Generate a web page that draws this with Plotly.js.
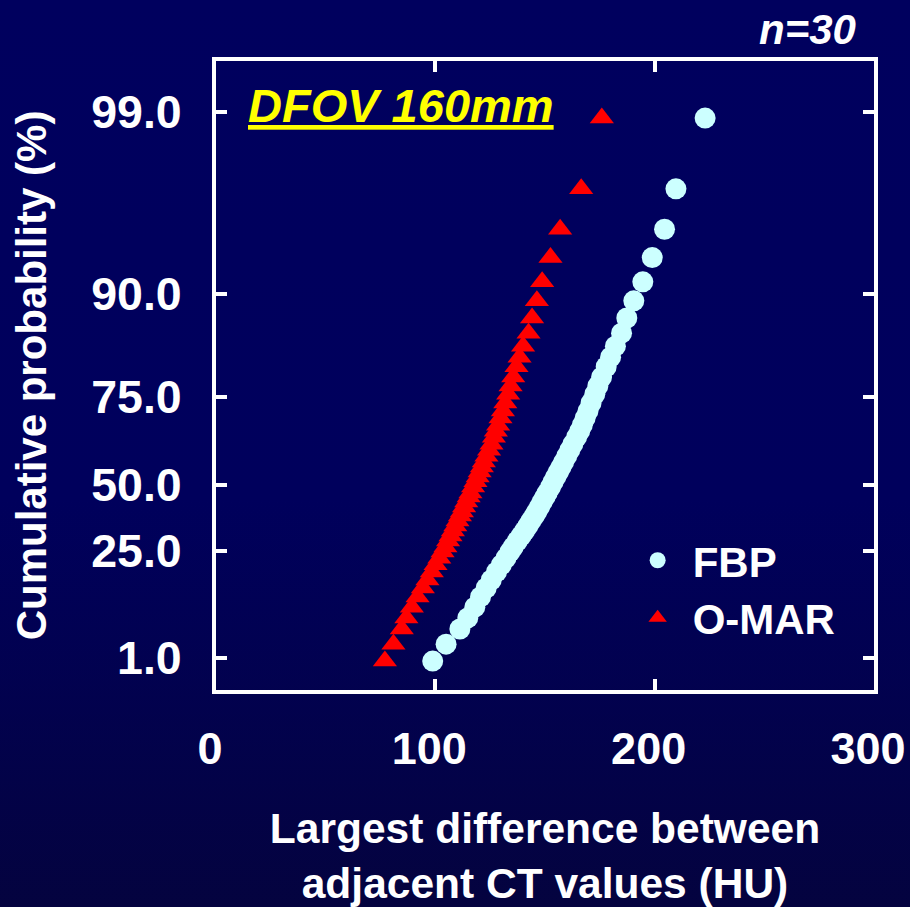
<!DOCTYPE html>
<html>
<head>
<meta charset="utf-8">
<script src="https://cdn.plot.ly/plotly-3.0.1.min.js"></script>
<style>
  html, body { margin: 0; padding: 0; }
  body { width: 910px; height: 907px; overflow: hidden;
         background: linear-gradient(to bottom, #00005e 0%, #00005c 55%, #04033f 100%); }
  #chart { width: 910px; height: 907px; }
</style>
</head>
<body>
<div id="chart"></div>
<script>
// ---- data ----
// cumulative probability (%) of each ranked point, shared by both series (bottom -> top)
const cumProb = [0.3, 4.1, 7.5, 10.0, 12.4, 14.7, 16.7, 18.5, 20.3, 21.9,
                 23.4, 24.8, 26.5, 28.8, 30.7, 32.6, 34.5, 36.4, 38.3, 39.8,
                 41.7, 43.6, 45.5, 47.0, 49.2, 50.9, 52.3, 53.7, 55.1, 56.5,
                 58.2, 59.9, 61.6, 63.6, 65.3, 67.0, 69.0, 71.0, 73.3, 75.4,
                 76.6, 77.9, 79.4, 80.8, 82.4, 84.3, 86.5, 89.0, 90.6, 91.8,
                 93.2, 95.2, 98.7];
// largest difference between adjacent CT values (HU)
const fbpHU = [98.8, 104.9, 111.2, 114.8, 118.0, 120.6, 123.2, 125.5, 127.9, 130.1,
               132.2, 134.0, 135.5, 137.4, 139.1, 140.7, 142.2, 143.6, 145.1, 146.2,
               147.5, 148.7, 150.0, 151.0, 152.5, 153.7, 154.9, 156.1, 157.3, 158.5,
               159.9, 161.3, 162.7, 164.4, 165.8, 167.0, 168.3, 169.6, 171.0, 172.7,
               174.1, 175.8, 177.9, 179.9, 182.1, 184.9, 187.3, 190.5, 194.6, 198.9,
               204.5, 209.7, 223.0];
const omarHU = [77.0, 80.9, 84.7, 86.8, 89.3, 91.9, 94.3, 96.4, 98.4, 100.1,
                101.8, 103.3, 104.6, 105.8, 106.9, 108.0, 109.1, 110.1, 111.2, 112.1,
                113.1, 114.1, 115.2, 116.0, 117.2, 118.3, 119.3, 120.2, 121.2, 122.1,
                123.3, 124.5, 125.6, 126.7, 127.6, 128.6, 129.7, 130.8, 131.9, 133.2,
                134.3, 135.5, 137.0, 138.4, 140.0, 142.5, 144.1, 146.3, 148.7, 152.5,
                156.9, 166.5, 175.9];
const seriesNames = ['FBP', 'O-MAR'];
const xTicks = [0, 100, 200, 300];
const probTicks = [1, 25, 50, 75, 90, 99];
const probTickLabels = ['1.0', '25.0', '50.0', '75.0', '90.0', '99.0'];

// ---- probability-paper scale of the original chart (relative position of each tick) ----
const probScalePos = [0, 107, 173, 261, 364, 546];
function probToAxis(p) {
  let i = 0;
  if (p <= probTicks[0]) i = 0;
  else if (p >= probTicks[probTicks.length - 1]) i = probTicks.length - 2;
  else { while (p > probTicks[i + 1]) i++; }
  const p0 = probTicks[i], p1 = probTicks[i + 1];
  const s0 = probScalePos[i], s1 = probScalePos[i + 1];
  return s0 + (p - p0) * (s1 - s0) / (p1 - p0);
}
const yRange = [-32, 597];

const font = "'Liberation Sans', Arial, sans-serif";
const yPos = cumProb.map(probToAxis);

const traces = [
  { type: 'scatter', mode: 'markers', name: seriesNames[0],
    x: fbpHU, y: yPos,
    marker: { symbol: 'circle', size: 21, color: '#ccffff' },
    hoverinfo: 'skip' },
  { type: 'scatter', mode: 'markers', name: seriesNames[1],
    x: omarHU, y: yPos,
    marker: { symbol: 'triangle-up', size: 21, color: '#ff0000' },
    hoverinfo: 'skip' }
];

const axisCommon = {
  showline: true, linecolor: '#ffffff', linewidth: 4,
  mirror: 'ticks', ticks: 'inside', ticklen: 11, tickwidth: 4, tickcolor: '#ffffff',
  showgrid: false, zeroline: false, fixedrange: true,
  ticklabeloverflow: 'allow'
};

const layout = {
  width: 910, height: 907,
  margin: { l: 216, r: 36, t: 61, b: 217 },
  paper_bgcolor: 'rgba(0,0,0,0)',
  plot_bgcolor: 'rgba(0,0,0,0)',
  showlegend: true,
  legend: {
    x: 0.618, y: 0.26, xanchor: 'left', yanchor: 'top',
    bgcolor: 'rgba(0,0,0,0)', borderwidth: 0,
    itemwidth: 60,
    font: { family: font, size: 42, color: '#ffffff', weight: 'bold' }
  },
  xaxis: Object.assign({}, axisCommon, {
    range: [0, 300], tickvals: xTicks, ticktext: xTicks.map(String),
    tickfont: { family: font, size: 45, color: '#ffffff', weight: 'bold' },
    ticklabelstandoff: 16, ticklabelshift: -6,
    title: { text: 'Largest difference between<br>adjacent CT values (HU)',
             font: { family: font, size: 42.5, color: '#ffffff', weight: 'bold' },
             standoff: 67 }
  }),
  yaxis: Object.assign({}, axisCommon, {
    range: yRange, tickvals: probTicks.map(probToAxis), ticktext: probTickLabels,
    tickfont: { family: font, size: 46.5, color: '#ffffff', weight: 'bold' },
    ticklabelstandoff: 21,
    title: { text: 'Cumulative probability (%)',
             font: { family: font, size: 42, color: '#ffffff', weight: 'bold' },
             standoff: 32 }
  }),
  annotations: [
    { xref: 'paper', yref: 'paper', x: 0.046, y: 0.93, xanchor: 'left', yanchor: 'middle',
      showarrow: false,
      text: '<span style="text-decoration:underline">DFOV 160mm</span>',
      font: { family: font, size: 47, color: '#ffff00', weight: 'bold', style: 'italic' } },
    { xref: 'paper', yref: 'paper', x: 0.975, y: 1.05, xanchor: 'right', yanchor: 'middle',
      showarrow: false, text: 'n=30',
      font: { family: font, size: 42, color: '#ffffff', weight: 'bold', style: 'italic' } }
  ]
};

Plotly.newPlot('chart', traces, layout, { displayModeBar: false, staticPlot: true });
</script>
</body>
</html>
